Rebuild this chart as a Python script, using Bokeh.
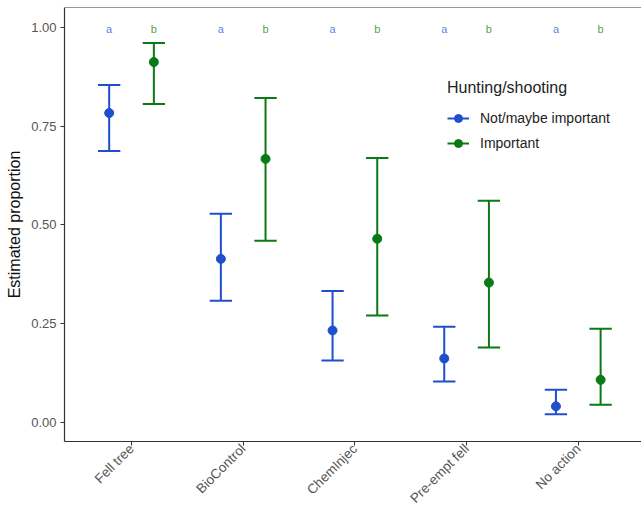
import math
from bokeh.plotting import figure
from bokeh.models import ColumnDataSource, FixedTicker, Range1d, Legend, LegendItem, Span, LabelSet
from bokeh.core.properties import value
from bokeh.embed import file_html
from bokeh.resources import INLINE

categories = ["Fell tree", "BioControl", "ChemInjec", "Pre-empt fell", "No action"]
groups = ["Not/maybe important", "Important"]
colors = ["#1f4fcc", "#0a7a14"]
letters = ["a", "b"]

est_not = [0.783, 0.414, 0.233, 0.162, 0.041]
low_not = [0.687, 0.308, 0.157, 0.104, 0.021]
up_not = [0.854, 0.528, 0.333, 0.242, 0.083]

est_imp = [0.912, 0.667, 0.465, 0.354, 0.108]
low_imp = [0.806, 0.460, 0.271, 0.190, 0.045]
up_imp = [0.960, 0.821, 0.669, 0.561, 0.237]

letter_y = 0.995
dodge = 0.2
cap = 0.1
y_top = 1.05

p = figure(width=641, height=515, output_backend="svg", toolbar_location=None,
           x_range=Range1d(0.4, 5.566), y_range=Range1d(-0.048, y_top),
           min_border_left=64, min_border_top=7, min_border_right=0, min_border_bottom=74)
p.background_fill_color = "white"
p.border_fill_color = "white"
p.outline_line_color = None
p.xgrid.visible = False
p.ygrid.visible = False
p.add_layout(Span(location=y_top, dimension="width", line_color="#333333", line_width=1.2))

font = "Liberation Sans"
items = []
series = [(est_not, low_not, up_not), (est_imp, low_imp, up_imp)]
for gi, (est, lo, up) in enumerate(series):
    off = -dodge if gi == 0 else dodge
    xs = [i + 1 + off for i in range(len(categories))]
    src = ColumnDataSource(dict(x=xs, est=est, lo=lo, up=up,
                                xl=[x - cap for x in xs], xr=[x + cap for x in xs],
                                lab=[letters[gi]] * len(xs),
                                ly=[letter_y] * len(xs)))
    seg = p.segment(x0="x", y0="lo", x1="x", y1="up", source=src, line_color=colors[gi], line_width=2)
    p.segment(x0="xl", y0="lo", x1="xr", y1="lo", source=src, line_color=colors[gi], line_width=2)
    p.segment(x0="xl", y0="up", x1="xr", y1="up", source=src, line_color=colors[gi], line_width=2)
    pts = p.scatter(x="x", y="est", source=src, size=9, fill_color=colors[gi], line_color=colors[gi])
    p.add_layout(LabelSet(x="x", y="ly", text="lab", source=src, text_color=colors[gi], text_alpha=0.75,
                          text_font=value(font), text_font_size="11px", text_align="center",
                          text_baseline="middle"))
    items.append(LegendItem(label=groups[gi], renderers=[seg, pts]))

legend = Legend(items=items, title="Hunting/shooting", location=(383, 288))
legend.title_text_font = font
legend.title_text_font_size = "16px"
legend.title_text_color = "#222222"
legend.title_text_font_style = "normal"
legend.label_text_font = font
legend.label_text_font_size = "14px"
legend.label_text_color = "#222222"
legend.border_line_color = None
legend.background_fill_alpha = 0
legend.glyph_width = 22
legend.label_standoff = 11
legend.spacing = 5
legend.title_standoff = 11
p.add_layout(legend, "center")

p.xaxis.ticker = FixedTicker(ticks=[1, 2, 3, 4, 5])
p.xaxis.major_label_overrides = {i + 1: c for i, c in enumerate(categories)}
p.xaxis.major_label_orientation = math.pi / 4
p.yaxis.ticker = FixedTicker(ticks=[0, 0.25, 0.5, 0.75, 1.0])
p.yaxis.major_label_overrides = {0: "0.00", 0.25: "0.25", 0.5: "0.50", 0.75: "0.75", 1.0: "1.00"}
p.yaxis.axis_label = "Estimated proportion"
for ax in (p.xaxis[0], p.yaxis[0]):
    ax.axis_line_color = "#333333"
    ax.axis_line_width = 1.2
    ax.major_tick_line_color = "#333333"
    ax.major_tick_out = 4
    ax.major_tick_in = 0
    ax.minor_tick_line_color = None
    ax.major_label_text_font = font
    ax.major_label_text_color = "#555555"
    ax.axis_label_text_font = font
    ax.axis_label_text_font_size = "16px"
    ax.axis_label_text_font_style = "normal"
    ax.axis_label_text_color = "#111111"
p.xaxis[0].major_label_text_font_size = "13.5px"
p.xaxis[0].major_label_standoff = 1
p.yaxis[0].major_label_text_font_size = "13px"
p.yaxis[0].major_label_standoff = 4
p.yaxis[0].axis_label_standoff = 5

open("out.html", "w").write(file_html(p, INLINE))
